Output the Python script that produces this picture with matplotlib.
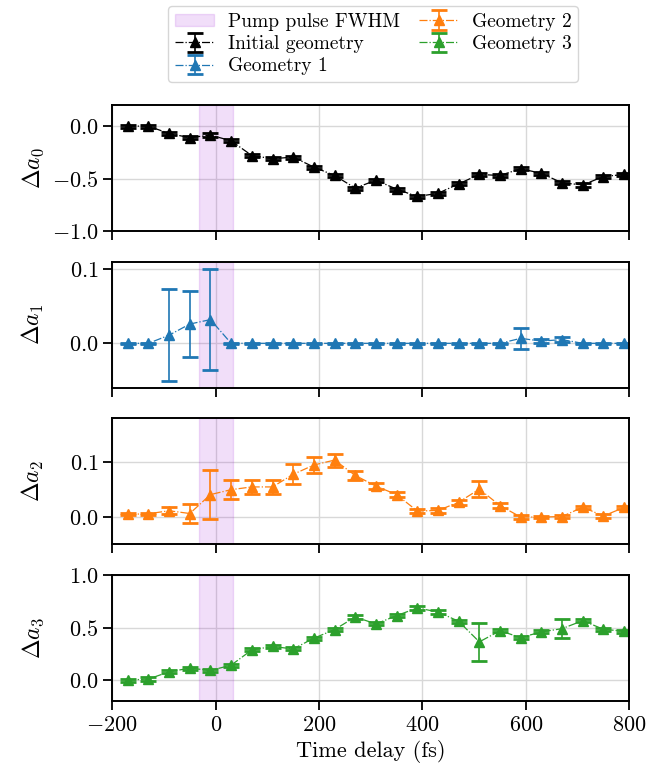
import numpy as np
import matplotlib
matplotlib.use('Agg')
import matplotlib.pyplot as plt

plt.rcParams['font.family'] = 'serif'
plt.rcParams['font.serif'] = ['cmr10']
plt.rcParams['mathtext.fontset'] = 'cm'
plt.rcParams['axes.formatter.use_mathtext'] = True
plt.rcParams['font.size'] = 16

# time delays (fs)
t = np.arange(-170, 800, 40)
pump_lo, pump_hi = -33, 33

a0 = [0.0, 0.0, -0.07, -0.11, -0.085, -0.14, -0.28, -0.31, -0.295, -0.39, -0.47, -0.59, -0.515,
      -0.60, -0.67, -0.64, -0.55, -0.46, -0.47, -0.405, -0.45, -0.54, -0.56, -0.48, -0.46]
a0_err = [0.015] * 25

a1 = [0.0, 0.0, 0.011, 0.026, 0.032, 0.0, 0.0, 0.0, 0.0, 0.0, 0.0, 0.0, 0.0,
      0.0, 0.0, 0.0, 0.0, 0.0, 0.0, 0.0067, 0.003, 0.005, 0.0, 0.0, 0.0]
a1_err = [0.001, 0.001, 0.062, 0.045, 0.068, 0.001, 0.001, 0.001, 0.001, 0.001, 0.001, 0.001, 0.001,
          0.001, 0.001, 0.001, 0.001, 0.001, 0.001, 0.014, 0.003, 0.003, 0.001, 0.001, 0.001]

a2 = [0.005, 0.006, 0.0115, 0.0065, 0.041, 0.050, 0.055, 0.055, 0.078, 0.095, 0.104, 0.076, 0.0565,
      0.041, 0.011, 0.012, 0.027, 0.051, 0.021, 0.0, 0.0, 0.001, 0.018, 0.002, 0.0175]
a2_err = [0.002, 0.002, 0.006, 0.0167, 0.045, 0.017, 0.013, 0.012, 0.018, 0.014, 0.012, 0.0075, 0.006,
          0.004, 0.004, 0.004, 0.005, 0.015, 0.005, 0.003, 0.002, 0.002, 0.003, 0.003, 0.003]

a3 = [0.0, 0.01, 0.079, 0.114, 0.092, 0.142, 0.288, 0.320, 0.297, 0.399, 0.481, 0.601, 0.535,
      0.614, 0.687, 0.649, 0.56, 0.364, 0.47, 0.405, 0.459, 0.49, 0.566, 0.484, 0.465]
a3_err = [0.015] * 25
a3_err[17] = 0.18
a3_err[21] = 0.09

series = [a0, a1, a2, a3]
errors = [a0_err, a1_err, a2_err, a3_err]
colors = ['black', '#1f77b4', '#ff7f0e', '#2ca02c']
labels = ['Initial geometry', 'Geometry 1', 'Geometry 2', 'Geometry 3']
ylabels = [r'$\Delta a_0$', r'$\Delta a_1$', r'$\Delta a_2$', r'$\Delta a_3$']
ylims = [(-1.0, 0.2), (-0.06, 0.11), (-0.05, 0.18), (-0.2, 1.0)]
yticks = [[-1.0, -0.5, 0.0], [0.0, 0.1], [0.0, 0.1], [0.0, 0.5, 1.0]]

fig, axes = plt.subplots(4, 1, figsize=(6.68, 7.73), dpi=100, sharex=True)
fig.subplots_adjust(left=0.168, right=0.942, top=0.864, bottom=0.093, hspace=0.243)

handles = []
for i, ax in enumerate(axes):
    span = ax.axvspan(pump_lo, pump_hi, color='darkviolet', alpha=0.13, lw=1, label='Pump pulse FWHM')
    if i == 0:
        handles.append(span)
    eb = ax.errorbar(t, series[i], yerr=errors[i], color=colors[i], marker='^', ms=6.5,
                     ls='-.', lw=0.9, elinewidth=1.2, capsize=5.5, capthick=2, label=labels[i])
    handles.append(eb)
    ax.set_ylim(ylims[i])
    ax.set_yticks(yticks[i])
    ax.set_ylabel(ylabels[i], fontsize=17)
    ax.grid(color='#d8d8d8', lw=1)
    ax.set_axisbelow(True)
    ax.tick_params(direction='out', length=6.5, width=1.3)
    for s in ax.spines.values():
        s.set_linewidth(1.4)

axes[-1].set_xlim(-200, 800)
axes[-1].set_xticks([-200, 0, 200, 400, 600, 800])
axes[-1].set_xlabel('Time delay (fs)')
fig.align_ylabels(axes)

fig.legend(handles, ['Pump pulse FWHM'] + labels, loc='upper center', ncol=2,
           bbox_to_anchor=(0.559, 1.0), fontsize=14, columnspacing=1.0, handletextpad=0.7,
           labelspacing=0.22, borderpad=0.35, borderaxespad=0.3, handleheight=0.6)

fig.savefig('out.png', dpi=100)
